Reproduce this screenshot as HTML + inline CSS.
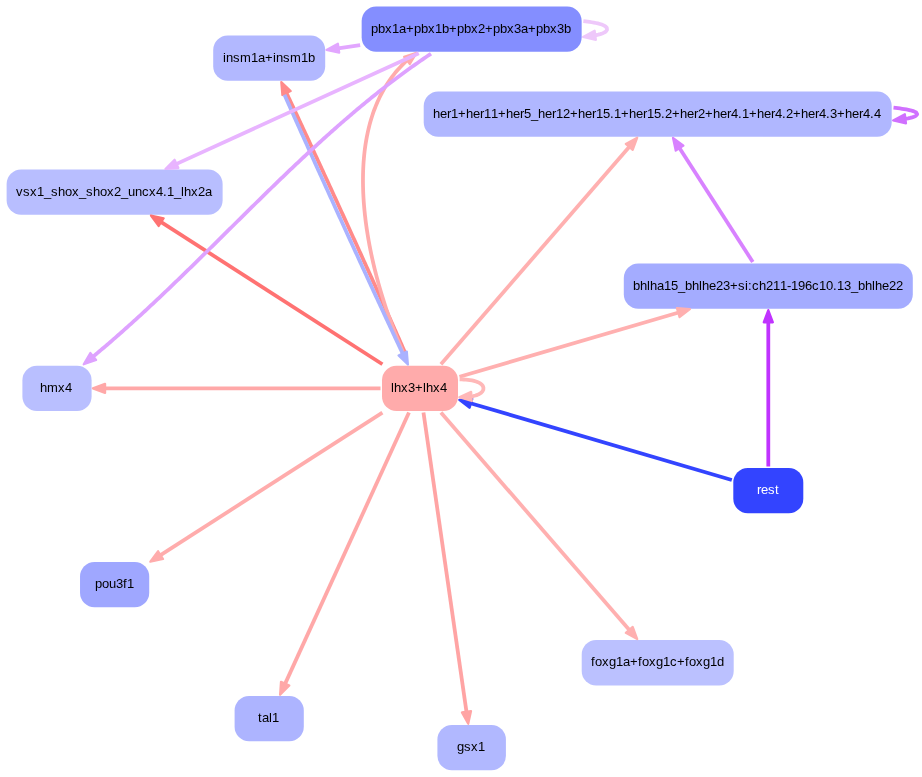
<!DOCTYPE html><html><head><meta charset="utf-8"><style>html,body{margin:0;padding:0;background:#fff;overflow:hidden;}svg{display:block;will-change:transform;}text{font-family:"Liberation Sans",sans-serif;font-size:13.0px;}</style></head><body>
<svg width="922" height="777" viewBox="0 0 922 777">
<rect width="922" height="777" fill="#fff"/>
<rect x="733.30" y="468.02" width="70.00" height="45.30" rx="14.5" ry="14.5" fill="#3344ff"/>
<text x="757 761 768 775" y="494.17" fill="#ffffff">rest</text>
<rect x="581.71" y="640.09" width="152.00" height="45.30" rx="14.5" ry="14.5" fill="#bbc1ff"/>
<text x="591 595 602 609 616 623 630 638 642 649 656 663 670 677 685 689 696 703 710 717" y="666.24" fill="#000">foxg1a+foxg1c+foxg1d</text>
<rect x="437.41" y="725.06" width="68.50" height="45.30" rx="14.5" ry="14.5" fill="#b1b8ff"/>
<text x="457 464 471 478" y="751.21" fill="#000">gsx1</text>
<rect x="234.60" y="695.95" width="69.20" height="45.30" rx="14.5" ry="14.5" fill="#adb4ff"/>
<text x="258 262 269 272" y="722.10" fill="#000">tal1</text>
<rect x="80.03" y="562.00" width="69.20" height="45.30" rx="14.5" ry="14.5" fill="#9fa7ff"/>
<text x="95 102 109 116 123 127" y="588.15" fill="#000">pou3f1</text>
<rect x="22.40" y="365.75" width="69.20" height="45.30" rx="14.5" ry="14.5" fill="#b9bfff"/>
<text x="40 47 58 65" y="391.90" fill="#000">hmx4</text>
<rect x="6.62" y="169.50" width="216.00" height="45.30" rx="14.5" ry="14.5" fill="#b8beff"/>
<text x="16 23 30 37 44 51 58 65 72 79 86 93 100 107 114 121 128 135 142 149 156 163 167 174 181 184 191 198 205" y="195.65" fill="#000">vsx1_shox_shox2_uncx4.1_lhx2a</text>
<rect x="213.20" y="35.55" width="112.00" height="45.30" rx="14.5" ry="14.5" fill="#b2b8ff"/>
<text x="223 226 233 240 251 258 265 273 276 283 290 301 308" y="61.70" fill="#000">insm1a+insm1b</text>
<rect x="361.66" y="6.44" width="220.00" height="45.30" rx="14.5" ry="14.5" fill="#848eff"/>
<text x="371 378 385 392 399 406 414 421 428 435 442 449 457 464 471 478 485 493 500 507 514 521 528 536 543 550 557 564" y="32.59" fill="#000">pbx1a+pbx1b+pbx2+pbx3a+pbx3b</text>
<rect x="423.71" y="91.41" width="468.00" height="45.30" rx="14.5" ry="14.5" fill="#b0b7ff"/>
<text x="433 440 447 451 458 466 473 480 484 491 498 506 513 520 524 531 538 545 552 556 563 570 578 585 592 596 603 610 614 621 629 636 643 647 654 661 665 672 680 687 694 698 705 713 720 727 731 738 742 749 757 764 771 775 782 786 793 801 808 815 819 826 830 837 845 852 859 863 870 874" y="117.56" fill="#000">her1+her11+her5_her12+her15.1+her15.2+her2+her4.1+her4.2+her4.3+her4.4</text>
<rect x="623.80" y="263.48" width="289.00" height="45.30" rx="14.5" ry="14.5" fill="#a4acff"/>
<text x="633 640 647 650 657 664 671 678 685 692 699 702 709 716 723 730 738 745 748 752 759 766 773 780 787 791 798 805 812 819 826 833 837 844 851 858 865 872 875 882 889 896" y="289.63" fill="#000">bhlha15_bhlhe23+si:ch211-196c10.13_bhlhe22</text>
<rect x="382.00" y="365.75" width="76.00" height="45.30" rx="14.5" ry="14.5" fill="#ffabab"/>
<text x="391 394 401 408 415 423 426 433 440" y="391.90" fill="#000">lhx3+lhx4</text>
<path d="M731.80,479.95 L470.47,403.22" stroke="#3344ff" stroke-width="3.77" fill="none"/>
<polygon points="459.25,399.92 472.25,398.95 469.66,407.77" fill="#3344ff" stroke="#3344ff" stroke-width="2.20" stroke-linejoin="round"/>
<path d="M768.30,466.52 L768.30,321.78" stroke="#c033ff" stroke-width="3.77" fill="none"/>
<polygon points="768.30,310.08 772.90,322.28 763.70,322.28" fill="#c033ff" stroke="#c033ff" stroke-width="2.20" stroke-linejoin="round"/>
<path d="M404.73,351.91 L403.91,350.05 L403.07,348.15 L402.22,346.22 L401.40,344.37 L400.56,342.49 L399.71,340.58 L398.85,338.63 L398.03,336.79 L397.20,334.92 L396.35,333.02 L395.50,331.10 L394.63,329.16 L393.81,327.33 L392.98,325.48 L392.15,323.61 L391.30,321.72 L390.45,319.81 L389.58,317.88 L388.71,315.94 L387.83,313.98 L387.01,312.14 L386.18,310.29 L385.34,308.43 L384.50,306.55 L383.65,304.66 L382.79,302.76 L381.93,300.84 L381.06,298.92 L380.19,296.98 L379.31,295.03 L378.42,293.07 L377.53,291.10 L376.71,289.27 L375.88,287.43 L375.04,285.58 L374.20,283.73 L373.36,281.86 L372.52,279.99 L371.67,278.12 L370.81,276.23 L369.96,274.34 L369.10,272.44 L368.23,270.54 L367.37,268.62 L366.50,266.71 L365.63,264.79 L364.75,262.86 L363.87,260.92 L363.00,258.99 L362.11,257.04 L361.23,255.10 L360.34,253.15 L359.45,251.19 L358.56,249.23 L357.67,247.27 L356.78,245.31 L355.88,243.34 L354.98,241.37 L354.09,239.40 L353.19,237.42 L352.29,235.45 L351.38,233.47 L350.48,231.49 L349.58,229.51 L348.68,227.53 L347.77,225.55 L346.87,223.57 L345.96,221.58 L345.06,219.60 L344.15,217.62 L343.25,215.64 L342.34,213.66 L341.44,211.68 L340.53,209.71 L339.63,207.73 L338.72,205.76 L337.82,203.79 L336.92,201.82 L336.02,199.85 L335.12,197.89 L334.22,195.93 L333.32,193.98 L332.43,192.02 L331.54,190.08 L330.64,188.13 L329.75,186.19 L328.86,184.26 L327.98,182.33 L327.09,180.41 L326.21,178.49 L325.33,176.58 L324.45,174.67 L323.58,172.77 L322.71,170.88 L321.84,168.99 L320.97,167.11 L320.11,165.24 L319.25,163.37 L318.39,161.51 L317.54,159.67 L316.69,157.83 L315.84,155.99 L315.00,154.17 L314.09,152.21 L313.19,150.25 L312.29,148.31 L311.40,146.38 L310.51,144.46 L309.63,142.55 L308.75,140.66 L307.88,138.78 L307.01,136.91 L306.15,135.06 L305.30,133.22 L304.45,131.39 L303.54,129.44 L302.64,127.51 L301.75,125.59 L300.87,123.70 L299.99,121.82 L299.13,119.96 L298.27,118.12 L297.42,116.30 L296.52,114.37 L295.63,112.46 L294.75,110.58 L293.88,108.73 L293.02,106.90 L292.12,104.97 L291.23,103.08 L290.35,101.21 L289.49,99.38 L288.59,97.46 L287.70,95.59 L286.83,93.74 L286.53,93.10" stroke="#ff8a8a" stroke-width="3.77" fill="none" stroke-linejoin="round"/>
<polygon points="281.28,82.05 290.69,91.13 282.38,95.08" fill="#ff8a8a" stroke="#ff8a8a" stroke-width="2.20" stroke-linejoin="round"/>
<path d="M402.84,351.72 L401.98,349.78 L401.13,347.81 L400.34,345.97 L399.55,344.11 L398.76,342.24 L397.98,340.34 L397.20,338.43 L396.42,336.51 L395.65,334.57 L394.88,332.62 L394.11,330.65 L393.35,328.67 L392.59,326.67 L391.83,324.66 L391.08,322.63 L390.40,320.75 L389.72,318.86 L389.04,316.95 L388.36,315.04 L387.69,313.12 L387.03,311.18 L386.37,309.24 L385.72,307.28 L385.07,305.32 L384.43,303.35 L383.80,301.37 L383.17,299.38 L382.54,297.38 L381.93,295.37 L381.32,293.35 L380.71,291.33 L380.12,289.30 L379.53,287.26 L378.95,285.22 L378.37,283.16 L377.81,281.10 L377.25,279.04 L376.70,276.97 L376.15,274.89 L375.62,272.80 L375.09,270.71 L374.58,268.62 L374.07,266.52 L373.57,264.41 L373.08,262.30 L372.60,260.19 L372.13,258.07 L371.67,255.95 L371.21,253.82 L370.77,251.69 L370.34,249.56 L369.92,247.43 L369.51,245.29 L369.11,243.15 L368.72,241.00 L368.34,238.86 L367.98,236.71 L367.62,234.56 L367.28,232.41 L366.95,230.26 L366.63,228.11 L366.32,225.95 L366.03,223.80 L365.74,221.64 L365.47,219.49 L365.22,217.33 L364.97,215.18 L364.74,213.03 L364.52,210.87 L364.32,208.72 L364.13,206.57 L363.95,204.42 L363.79,202.28 L363.64,200.13 L363.51,197.99 L363.39,195.85 L363.28,193.71 L363.19,191.58 L363.12,189.45 L363.06,187.32 L363.02,185.20 L362.99,183.08 L362.97,180.96 L362.98,178.85 L363.00,176.74 L363.03,174.64 L363.08,172.54 L363.15,170.45 L363.24,168.36 L363.34,166.28 L363.46,164.20 L363.59,162.13 L363.75,160.07 L363.92,158.01 L364.11,155.96 L364.32,153.92 L364.54,151.89 L364.78,149.86 L365.05,147.84 L365.33,145.83 L365.63,143.82 L365.95,141.83 L366.28,139.84 L366.64,137.86 L367.02,135.89 L367.45,133.77 L367.90,131.66 L368.38,129.56 L368.88,127.48 L369.41,125.40 L369.95,123.34 L370.53,121.29 L371.13,119.25 L371.75,117.23 L372.40,115.22 L373.07,113.22 L373.77,111.24 L374.50,109.27 L375.25,107.32 L376.02,105.38 L376.83,103.46 L377.66,101.55 L378.51,99.66 L379.40,97.79 L380.31,95.93 L381.25,94.09 L382.21,92.26 L383.21,90.46 L384.23,88.67 L385.28,86.90 L386.36,85.14 L387.47,83.41 L388.60,81.70 L389.77,80.00 L390.97,78.32 L392.19,76.67 L393.45,75.03 L394.73,73.41 L396.05,71.82 L397.39,70.24 L398.77,68.69 L400.18,67.16 L401.62,65.65 L403.09,64.16 L404.59,62.69 L406.12,61.25 L406.96,60.48" stroke="#ffacac" stroke-width="3.77" fill="none" stroke-linejoin="round"/>
<polygon points="416.49,52.82 409.85,64.06 404.08,56.90" fill="#ffacac" stroke="#ffacac" stroke-width="2.20" stroke-linejoin="round"/>
<path d="M440.93,364.25 L629.57,146.54" stroke="#ffb0b0" stroke-width="3.77" fill="none"/>
<polygon points="637.24,137.70 632.72,149.93 625.77,143.90" fill="#ffb0b0" stroke="#ffb0b0" stroke-width="2.20" stroke-linejoin="round"/>
<path d="M382.42,364.25 L160.81,221.83" stroke="#ff7272" stroke-width="3.77" fill="none"/>
<polygon points="150.96,215.50 163.71,218.23 158.74,225.97" fill="#ff7272" stroke="#ff7272" stroke-width="2.20" stroke-linejoin="round"/>
<path d="M459.50,376.80 L678.68,312.44" stroke="#ffb0b0" stroke-width="3.77" fill="none"/>
<polygon points="689.91,309.15 679.50,317.00 676.91,308.17" fill="#ffb0b0" stroke="#ffb0b0" stroke-width="2.20" stroke-linejoin="round"/>
<path d="M380.50,388.40 L104.60,388.40" stroke="#ffa8a8" stroke-width="3.77" fill="none"/>
<polygon points="92.90,388.40 105.10,383.80 105.10,393.00" fill="#ffa8a8" stroke="#ffa8a8" stroke-width="2.20" stroke-linejoin="round"/>
<path d="M459.62,379.40 L461.72,379.42 L463.76,379.50 L465.87,379.64 L467.90,379.83 L469.96,380.10 L472.02,380.45 L474.05,380.91 L476.01,381.47 L477.93,382.18 L479.74,383.08 L481.39,384.23 L482.72,385.75 L483.44,387.64 L483.33,389.67 L482.40,391.50 L480.96,392.91 L479.27,393.98 L477.37,394.85 L475.47,395.50 L473.46,396.04 L471.49,396.45" stroke="#ffb8b8" stroke-width="3.77" fill="none" stroke-linejoin="round"/>
<polygon points="459.31,397.29 471.17,391.86 471.81,401.04" fill="#ffb8b8" stroke="#ffb8b8" stroke-width="2.20" stroke-linejoin="round"/>
<path d="M382.42,412.55 L160.16,555.39" stroke="#ffacac" stroke-width="3.77" fill="none"/>
<polygon points="150.32,561.71 158.10,551.25 163.07,558.99" fill="#ffacac" stroke="#ffacac" stroke-width="2.20" stroke-linejoin="round"/>
<path d="M408.97,412.55 L284.95,684.12" stroke="#ffa8a8" stroke-width="3.77" fill="none"/>
<polygon points="280.09,694.76 280.97,681.76 289.34,685.58" fill="#ffa8a8" stroke="#ffa8a8" stroke-width="2.20" stroke-linejoin="round"/>
<path d="M423.47,412.55 L466.55,712.19" stroke="#ffa4a4" stroke-width="3.77" fill="none"/>
<polygon points="468.22,723.77 461.93,712.35 471.04,711.04" fill="#ffa4a4" stroke="#ffa4a4" stroke-width="2.20" stroke-linejoin="round"/>
<path d="M440.93,412.55 L629.58,630.26" stroke="#ffb0b0" stroke-width="3.77" fill="none"/>
<polygon points="637.24,639.10 625.77,632.90 632.72,626.87" fill="#ffb0b0" stroke="#ffb0b0" stroke-width="2.20" stroke-linejoin="round"/>
<path d="M284.47,94.69 L285.29,96.55 L286.13,98.45 L286.99,100.38 L287.81,102.23 L288.64,104.12 L289.49,106.03 L290.35,107.97 L291.17,109.81 L292.01,111.69 L292.85,113.58 L293.71,115.50 L294.57,117.44 L295.39,119.27 L296.22,121.13 L297.06,123.00 L297.90,124.89 L298.76,126.80 L299.62,128.72 L300.49,130.67 L301.37,132.63 L302.20,134.46 L303.03,136.31 L303.86,138.18 L304.71,140.05 L305.56,141.94 L306.41,143.84 L307.28,145.76 L308.14,147.69 L309.02,149.62 L309.90,151.57 L310.78,153.54 L311.67,155.51 L312.50,157.34 L313.33,159.18 L314.16,161.02 L315.00,162.88 L315.84,164.74 L316.69,166.61 L317.54,168.49 L318.39,170.37 L319.25,172.27 L320.11,174.16 L320.97,176.07 L321.84,177.98 L322.71,179.90 L323.58,181.82 L324.45,183.75 L325.33,185.68 L326.21,187.62 L327.09,189.56 L327.98,191.51 L328.86,193.46 L329.75,195.41 L330.64,197.37 L331.53,199.33 L332.43,201.30 L333.32,203.26 L334.22,205.23 L335.12,207.21 L336.02,209.18 L336.92,211.16 L337.82,213.13 L338.72,215.11 L339.63,217.09 L340.53,219.08 L341.43,221.06 L342.34,223.04 L343.24,225.02 L344.15,227.00 L345.05,228.98 L345.96,230.96 L346.86,232.94 L347.77,234.92 L348.67,236.90 L349.58,238.87 L350.48,240.85 L351.38,242.82 L352.28,244.78 L353.18,246.75 L354.08,248.71 L354.98,250.67 L355.88,252.63 L356.78,254.58 L357.67,256.53 L358.56,258.47 L359.45,260.41 L360.34,262.34 L361.23,264.27 L362.11,266.20 L362.99,268.12 L363.87,270.03 L364.75,271.93 L365.62,273.83 L366.50,275.73 L367.37,277.61 L368.23,279.49 L369.10,281.37 L369.95,283.23 L370.81,285.09 L371.66,286.94 L372.51,288.78 L373.36,290.61 L374.20,292.43 L375.11,294.40 L376.01,296.35 L376.91,298.29 L377.81,300.22 L378.69,302.14 L379.58,304.05 L380.45,305.94 L381.33,307.82 L382.19,309.69 L383.05,311.55 L383.91,313.39 L384.75,315.21 L385.66,317.16 L386.56,319.10 L387.45,321.01 L388.33,322.91 L389.21,324.79 L390.08,326.65 L390.93,328.49 L391.78,330.31 L392.68,332.23 L393.58,334.14 L394.46,336.02 L395.32,337.88 L396.18,339.71 L397.08,341.63 L397.97,343.53 L398.85,345.39 L399.71,347.23 L400.61,349.14 L401.50,351.02 L402.37,352.86 L402.67,353.50" stroke="#aab2ff" stroke-width="3.77" fill="none" stroke-linejoin="round"/>
<polygon points="407.92,364.55 398.52,355.47 406.83,351.53" fill="#aab2ff" stroke="#aab2ff" stroke-width="2.20" stroke-linejoin="round"/>
<path d="M360.16,45.13 L338.07,48.30" stroke="#e2a6ff" stroke-width="3.77" fill="none"/>
<polygon points="326.49,49.97 337.91,43.68 339.22,52.78" fill="#e2a6ff" stroke="#e2a6ff" stroke-width="2.20" stroke-linejoin="round"/>
<path d="M583.34,21.21 L585.52,21.43 L587.61,21.68 L589.63,21.94 L591.74,22.25 L593.74,22.58 L595.78,22.98 L597.83,23.44 L599.84,23.97 L601.74,24.58 L603.68,25.38 L605.42,26.39 L606.83,27.88 L607.01,29.92 L605.75,31.54 L604.05,32.62 L602.20,33.44 L600.24,34.10 L598.28,34.64 L596.27,35.11 L595.28,35.31" stroke="#eec8fa" stroke-width="3.77" fill="none" stroke-linejoin="round"/>
<polygon points="583.05,36.95 594.67,30.75 595.89,39.87" fill="#eec8fa" stroke="#eec8fa" stroke-width="2.20" stroke-linejoin="round"/>
<path d="M418.78,53.24 L176.05,164.10" stroke="#e8b4ff" stroke-width="3.77" fill="none"/>
<polygon points="165.40,168.96 174.59,159.71 178.41,168.07" fill="#e8b4ff" stroke="#e8b4ff" stroke-width="2.20" stroke-linejoin="round"/>
<path d="M431.00,53.70 L429.25,54.87 L427.51,56.05 L425.77,57.23 L424.03,58.41 L422.30,59.60 L420.57,60.80 L418.85,61.99 L417.13,63.20 L415.41,64.41 L413.69,65.62 L411.98,66.84 L410.28,68.06 L408.58,69.29 L406.88,70.52 L405.18,71.75 L403.49,72.99 L401.80,74.24 L400.11,75.48 L398.43,76.74 L396.75,77.99 L395.08,79.25 L393.41,80.52 L391.74,81.79 L390.07,83.06 L388.41,84.34 L386.75,85.62 L385.09,86.90 L383.44,88.19 L381.79,89.48 L380.14,90.78 L378.50,92.08 L376.86,93.38 L375.22,94.69 L373.59,96.00 L371.95,97.32 L370.33,98.64 L368.70,99.96 L367.08,101.28 L365.45,102.61 L363.84,103.95 L362.22,105.28 L360.61,106.62 L359.00,107.96 L357.39,109.31 L355.79,110.66 L354.18,112.01 L352.58,113.37 L350.99,114.72 L349.39,116.09 L347.80,117.45 L346.21,118.82 L344.62,120.19 L343.04,121.56 L341.45,122.94 L339.87,124.32 L338.29,125.70 L336.72,127.09 L335.14,128.47 L333.57,129.86 L332.00,131.26 L330.43,132.65 L328.87,134.05 L327.30,135.45 L325.74,136.86 L324.18,138.26 L322.62,139.67 L321.07,141.08 L319.51,142.49 L317.96,143.91 L316.41,145.33 L314.86,146.75 L313.31,148.17 L311.77,149.59 L310.22,151.02 L308.68,152.45 L307.14,153.88 L305.60,155.31 L304.06,156.75 L302.53,158.18 L300.99,159.62 L299.46,161.06 L297.93,162.51 L296.40,163.95 L294.87,165.40 L293.34,166.84 L291.82,168.29 L290.29,169.74 L288.77,171.20 L287.25,172.65 L285.72,174.11 L284.20,175.56 L282.68,177.02 L281.17,178.48 L279.65,179.95 L278.13,181.41 L276.62,182.87 L275.10,184.34 L273.59,185.80 L272.08,187.27 L270.57,188.74 L269.06,190.21 L267.55,191.68 L266.04,193.16 L264.53,194.63 L263.02,196.10 L261.52,197.58 L260.01,199.05 L258.50,200.53 L257.00,202.01 L255.49,203.49 L253.99,204.97 L252.49,206.45 L250.98,207.93 L249.48,209.41 L247.98,210.89 L246.48,212.37 L244.97,213.86 L243.47,215.34 L241.97,216.83 L240.47,218.31 L238.97,219.79 L237.47,221.28 L235.97,222.76 L234.47,224.25 L232.97,225.74 L231.47,227.22 L229.97,228.71 L228.47,230.19 L226.97,231.68 L225.47,233.17 L223.97,234.65 L222.47,236.14 L220.97,237.63 L219.46,239.11 L217.96,240.60 L216.46,242.08 L214.96,243.57 L213.46,245.06 L211.96,246.54 L210.45,248.02 L208.95,249.51 L207.45,250.99 L205.94,252.48 L204.44,253.96 L202.93,255.44 L201.43,256.92 L199.92,258.40 L198.41,259.88 L196.90,261.36 L195.40,262.84 L193.89,264.32 L192.38,265.80 L190.86,267.27 L189.35,268.75 L187.84,270.22 L186.33,271.70 L184.81,273.17 L183.30,274.64 L181.78,276.11 L180.26,277.58 L178.74,279.05 L177.23,280.52 L175.70,281.98 L174.18,283.45 L172.66,284.91 L171.14,286.38 L169.61,287.84 L168.08,289.30 L166.56,290.75 L165.03,292.21 L163.50,293.66 L161.96,295.12 L160.43,296.57 L158.89,298.02 L157.36,299.47 L155.82,300.91 L154.28,302.36 L152.74,303.80 L151.20,305.24 L149.65,306.68 L148.11,308.12 L146.56,309.56 L145.01,310.99 L143.46,312.42 L141.90,313.85 L140.35,315.28 L138.79,316.70 L137.23,318.13 L135.67,319.55 L134.11,320.97 L132.55,322.38 L130.98,323.80 L129.41,325.21 L127.84,326.62 L126.27,328.02 L124.69,329.43 L123.11,330.83 L121.53,332.23 L119.95,333.63 L118.37,335.02 L116.78,336.41 L115.19,337.80 L113.60,339.19 L112.01,340.57 L110.41,341.95 L108.82,343.33 L107.21,344.70 L105.61,346.08 L104.01,347.44 L102.40,348.81 L100.79,350.17 L99.17,351.53 L97.56,352.89 L95.94,354.24 L94.32,355.59 L93.23,356.49" stroke="#dea2ff" stroke-width="3.77" fill="none" stroke-linejoin="round"/>
<polygon points="83.71,364.28 90.32,352.93 96.14,360.05" fill="#dea2ff" stroke="#dea2ff" stroke-width="2.20" stroke-linejoin="round"/>
<path d="M893.50,107.74 L895.74,107.98 L897.88,108.22 L899.92,108.48 L902.13,108.78 L904.21,109.10 L906.38,109.47 L908.37,109.85 L910.35,110.30 L912.43,110.87 L914.40,111.56 L916.18,112.51 L917.20,114.24 L915.86,115.83 L914.02,116.72 L912.11,117.36 L910.17,117.87 L908.15,118.32 L906.15,118.70 L905.44,118.83" stroke="#d070ff" stroke-width="3.77" fill="none" stroke-linejoin="round"/>
<polygon points="893.13,120.38 904.86,114.26 906.01,123.39" fill="#d070ff" stroke="#d070ff" stroke-width="2.20" stroke-linejoin="round"/>
<path d="M752.78,261.98 L679.30,147.65" stroke="#d882ff" stroke-width="3.77" fill="none"/>
<polygon points="672.97,137.81 683.44,145.58 675.70,150.56" fill="#d882ff" stroke="#d882ff" stroke-width="2.20" stroke-linejoin="round"/>
</svg></body></html>
